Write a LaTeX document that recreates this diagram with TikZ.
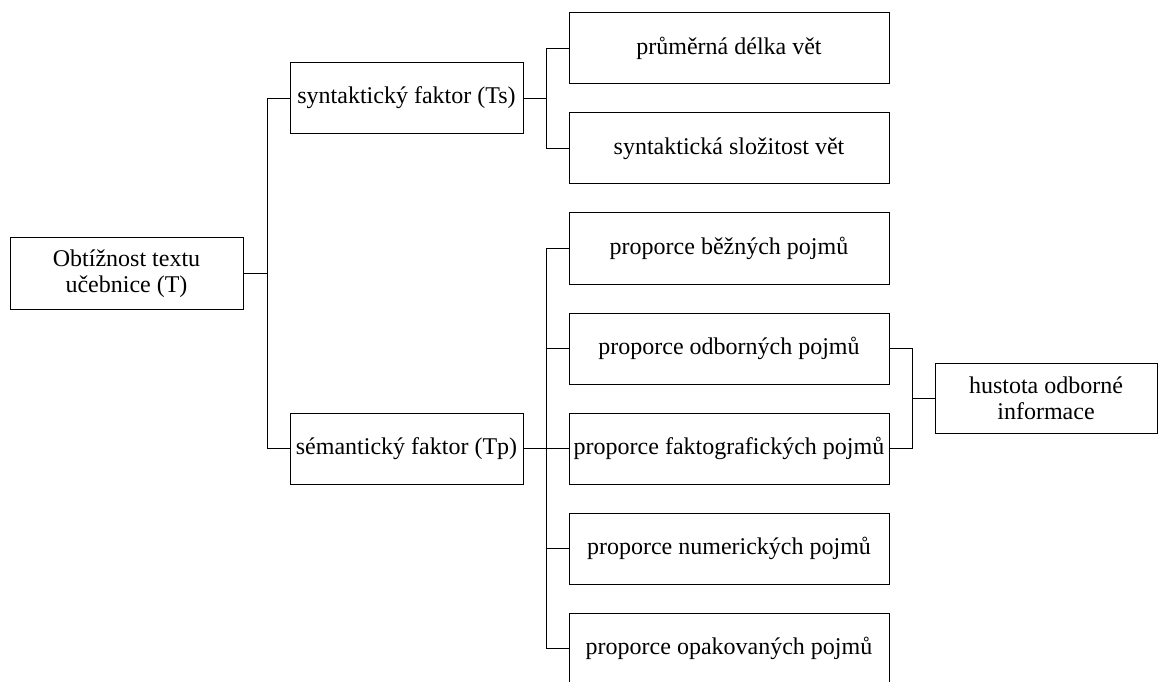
\documentclass[tikz,border=0pt]{standalone}
\usepackage{fontspec}
\setmainfont{Liberation Serif}
\usepackage{tikz}
\usetikzlibrary{calc}

\tikzset{
  box/.style={draw, line width=1pt, minimum height=71pt, align=center,
    inner sep=2pt, font=\fontsize{24}{26}\selectfont},
  rootbox/.style={box, minimum width=233pt},
  factorbox/.style={box, minimum width=233pt},
  itembox/.style={box, minimum width=320pt},
  link/.style={line width=0.9pt}
}

\begin{document}
\begin{tikzpicture}[x=1pt, y=1pt]
  \useasboundingbox (0,0) rectangle (1158,681);
  % Koren
  \node[rootbox] (root) at (126.5, 407.5) {Obtížnost textu\\učebnice (T)};
  % Faktory
  \node[factorbox] (Ts) at (406.5, 583) {syntaktický faktor (Ts)};
  \node[factorbox] (Tp) at (406.5, 232.5) {sémantický faktor (Tp)};
  % Syntakticke polozky
  \node[itembox] (delka) at (729, 632.5) {průměrná délka vět};
  \node[itembox] (slozitost) at (729, 532.5) {syntaktická složitost vět};
  % Semanticke polozky
  \node[itembox] (bezne) at (729, 432.5) {proporce běžných pojmů};
  \node[itembox] (odborne) at (729, 332.5) {proporce odborných pojmů};
  \node[itembox] (fakto) at (729, 232.5) {proporce faktografických pojmů};
  \node[itembox] (numer) at (729, 132.5) {proporce numerických pojmů};
  \node[itembox] (opak) at (729, 32.5) {proporce opakovaných pojmů};
  % Hustota
  \node[box, minimum width=222pt, minimum height=70pt] (hustota) at (1046, 282.5)
    {hustota odborné\\informace};
  % Spojnice
  \foreach \f in {Ts, Tp}
    \draw[link] (root.east) -- ++(23.5,0) |- (\f.west);
  \foreach \c in {delka, slozitost}
    \draw[link] (Ts.east) -- ++(23,0) |- (\c.west);
  \foreach \c in {bezne, odborne, fakto, numer, opak}
    \draw[link] (Tp.east) -- ++(23,0) |- (\c.west);
  \foreach \c in {odborne, fakto}
    \draw[link] (\c.east) -- ++(23,0) |- (hustota.west);
\end{tikzpicture}
\end{document}
